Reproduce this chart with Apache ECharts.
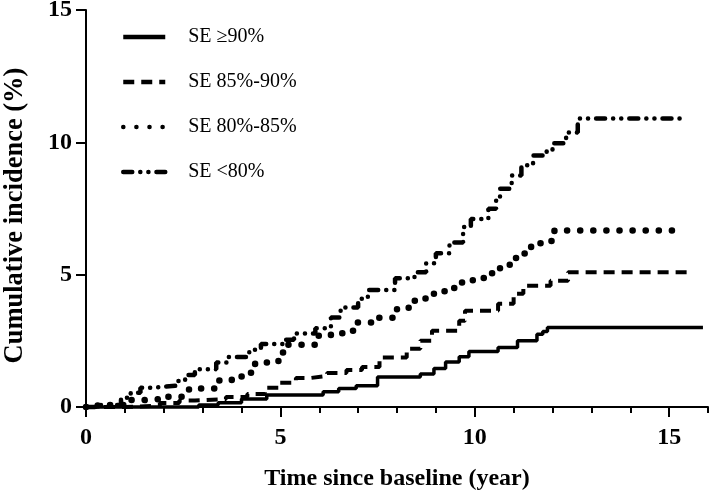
<!DOCTYPE html>
<html>
<head>
<meta charset="utf-8">
<script src="https://cdn.jsdelivr.net/npm/echarts@6/dist/echarts.min.js"></script>
<style>html,body{margin:0;padding:0;background:#fff}#c{width:709px;height:493px}</style>
</head>
<body>
<div id="c"></div>
<script>
// Series names
const seriesNames = ['SE \u226590%', 'SE 85%-90%', 'SE 80%-85%', 'SE <80%'];
// Step-function data: [time (year), cumulative incidence (%)]
const se90 = [[0,0],[2.9,0.08],[3.4,0.16],[4.0,0.3],[4.65,0.45],[6.1,0.58],[6.5,0.7],[6.95,0.8],[7.5,1.13],[8.6,1.25],[8.95,1.45],[9.25,1.7],[9.6,1.9],[9.85,2.1],[10.6,2.25],[11.1,2.5],[11.6,2.75],[11.75,2.85],[11.87,3.0],[15.87,3.0]];
const se8590 = [[0,0],[1.0,0.05],[1.9,0.15],[2.4,0.25],[2.8,0.3],[3.6,0.38],[4.15,0.49],[4.6,0.73],[4.95,0.92],[5.4,1.1],[5.8,1.17],[6.2,1.28],[6.7,1.4],[7.1,1.51],[7.55,1.87],[8.25,2.2],[8.6,2.5],[8.9,2.88],[9.6,3.26],[9.75,3.64],[10.6,3.9],[11.0,4.28],[11.25,4.58],[11.95,4.77],[12.4,5.09],[15.5,5.09]];
const se8085 = [[0,0],[0.3,0.08],[1.1,0.26],[1.5,0.3],[1.95,0.39],[2.5,0.46],[2.65,0.7],[3.35,1.0],[3.75,1.15],[4.1,1.29],[4.35,1.68],[4.95,2.06],[5.2,2.35],[5.9,2.69],[6.3,2.79],[6.7,2.88],[6.95,3.19],[7.35,3.37],[8.0,3.7],[8.3,4.01],[8.65,4.1],[8.95,4.37],[9.25,4.5],[9.6,4.7],[9.95,4.87],[10.35,5.05],[10.65,5.25],[10.9,5.63],[11.2,5.8],[11.45,6.19],[11.8,6.27],[12.05,6.67],[15.3,6.67]];
const se80 = [[0,0],[0.3,0.08],[0.9,0.35],[1.15,0.54],[1.4,0.73],[1.7,0.8],[2.3,0.98],[2.55,1.21],[2.8,1.43],[3.35,1.68],[3.65,1.89],[4.2,2.16],[4.5,2.38],[5.1,2.54],[5.35,2.78],[5.9,2.98],[6.3,3.38],[6.55,3.76],[7.0,4.09],[7.25,4.42],[7.95,4.86],[8.45,5.09],[8.75,5.43],[9.0,5.81],[9.35,6.22],[9.7,6.8],[9.9,7.1],[10.35,7.49],[10.55,7.87],[10.65,8.25],[10.95,8.75],[11.2,9.13],[11.5,9.5],[11.85,9.72],[12.0,9.97],[12.35,10.37],[12.65,10.9],[15.4,10.9]];
// Tick values
const xMajorTicks = [0, 5, 10, 15];
const xMinorTicks = [0,1,2,3,4,5,6,7,8,9,10,11,12,13,14,15,16];
const yTicks = [0, 5, 10, 15];

const FONT = 'Liberation Serif';
const chart = echarts.init(document.getElementById('c'), null, {renderer: 'canvas'});

function mk(name, data, ls) {
  return {
    name: name, type: 'line', data: data, step: 'end',
    xAxisIndex: 0, yAxisIndex: 0,
    symbol: 'none', showSymbol: false, clip: false,
    lineStyle: Object.assign({color: '#000'}, ls),
    itemStyle: {color: '#000'},
    emphasis: {disabled: true}
  };
}

chart.setOption({
  animation: false,
  backgroundColor: '#fff',
  grid: {left: 86, right: 1, top: 10, bottom: 86, outerBoundsMode: 'none', containLabel: false},
  legend: {
    orient: 'vertical', left: 116, top: 22,
    itemWidth: 42, itemHeight: 14, itemGap: 25,
    data: seriesNames,
    itemStyle: {opacity: 0},
    lineStyle: {width: 4.5},
    textStyle: {fontFamily: FONT, fontSize: 20, color: '#000', padding: [0, 0, 0, 18]},
    selectedMode: false
  },
  xAxis: [
    {
      type: 'value', min: 0, max: 16, position: 'bottom',
      axisLine: {show: true, lineStyle: {color: '#000', width: 2}},
      axisTick: {show: true, length: 10, lineStyle: {color: '#000', width: 2}, customValues: xMajorTicks},
      axisLabel: {customValues: xMajorTicks, margin: 19, fontFamily: FONT, fontWeight: 'bold', fontSize: 24, color: '#000'},
      splitLine: {show: false},
      name: 'Time since baseline (year)', nameLocation: 'middle', nameGap: 60,
      nameTextStyle: {fontFamily: FONT, fontWeight: 'bold', fontSize: 24, color: '#000'}
    },
    {
      type: 'value', min: 0, max: 16, position: 'bottom',
      axisLine: {show: false},
      axisTick: {show: true, length: 6, lineStyle: {color: '#000', width: 2}, customValues: xMinorTicks},
      axisLabel: {show: false},
      splitLine: {show: false}
    }
  ],
  yAxis: {
    type: 'value', min: 0, max: 15, interval: 5,
    axisLine: {show: true, lineStyle: {color: '#000', width: 2}},
    axisTick: {show: true, length: 10, lineStyle: {color: '#000', width: 2}, customValues: yTicks},
    axisLabel: {customValues: yTicks, margin: 14, fontFamily: FONT, fontWeight: 'bold', fontSize: 24, color: '#000'},
    splitLine: {show: false},
    name: 'Cumulative incidence (%)', nameLocation: 'middle', nameGap: 57,
    nameTextStyle: {fontFamily: FONT, fontWeight: 'bold', fontSize: 26.5, color: '#000', padding: [0, 14, 0, 0]}
  },
  series: [
    mk(seriesNames[0], se90, {type: 'solid', width: 3.5}),
    mk(seriesNames[1], se8590, {type: [11, 7], width: 4, cap: 'butt'}),
    mk(seriesNames[2], se8085, {type: [0.1, 13], width: 6.5, cap: 'round'}),
    mk(seriesNames[3], se80, {type: [9, 8, 0.1, 8, 0.1, 8], width: 4.5, cap: 'round'})
  ]
});
</script>
</body>
</html>
